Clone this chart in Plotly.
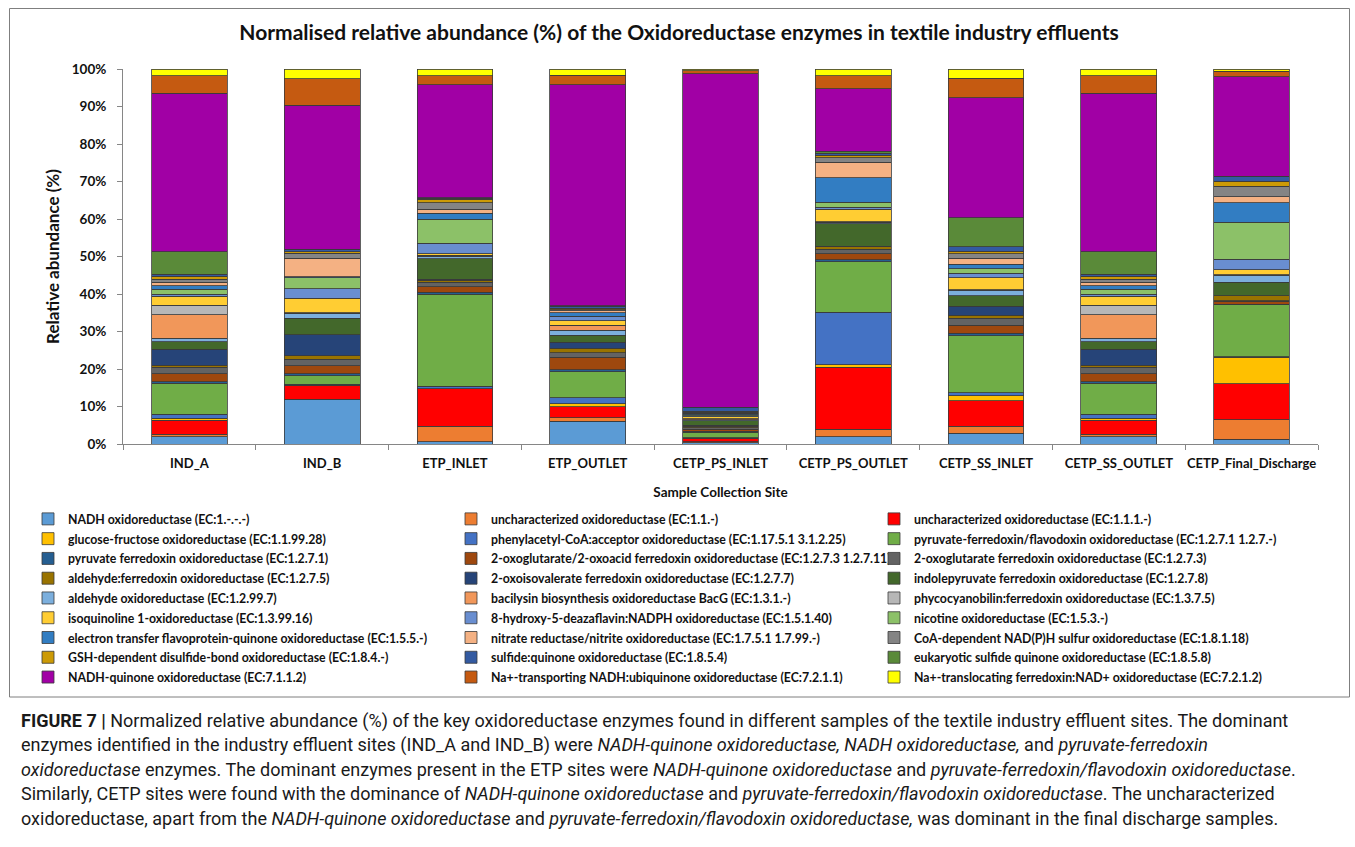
import plotly.graph_objects as go

# Sample collection sites (x categories)
sites = ["IND_A", "IND_B", "ETP_INLET", "ETP_OUTLET", "CETP_PS_INLET",
         "CETP_PS_OUTLET", "CETP_SS_INLET", "CETP_SS_OUTLET", "CETP_Final_Discharge"]

# Oxidoreductase enzymes, stacked bottom to top
enzymes = [
    "NADH oxidoreductase (EC:1.-.-.-)",
    "uncharacterized oxidoreductase (EC:1.1.-)",
    "uncharacterized oxidoreductase (EC:1.1.1.-)",
    "glucose-fructose oxidoreductase (EC:1.1.99.28)",
    "phenylacetyl-CoA:acceptor oxidoreductase (EC:1.17.5.1 3.1.2.25)",
    "pyruvate-ferredoxin/flavodoxin oxidoreductase (EC:1.2.7.1 1.2.7.-)",
    "pyruvate ferredoxin oxidoreductase (EC:1.2.7.1)",
    "2-oxoglutarate/2-oxoacid ferredoxin oxidoreductase (EC:1.2.7.3 1.2.7.11)",
    "2-oxoglutarate ferredoxin oxidoreductase (EC:1.2.7.3)",
    "aldehyde:ferredoxin oxidoreductase (EC:1.2.7.5)",
    "2-oxoisovalerate ferredoxin oxidoreductase (EC:1.2.7.7)",
    "indolepyruvate ferredoxin oxidoreductase (EC:1.2.7.8)",
    "aldehyde oxidoreductase (EC:1.2.99.7)",
    "bacilysin biosynthesis oxidoreductase BacG (EC:1.3.1.-)",
    "phycocyanobilin:ferredoxin oxidoreductase (EC:1.3.7.5)",
    "isoquinoline 1-oxidoreductase (EC:1.3.99.16)",
    "8-hydroxy-5-deazaflavin:NADPH oxidoreductase (EC:1.5.1.40)",
    "nicotine oxidoreductase (EC:1.5.3.-)",
    "electron transfer flavoprotein-quinone oxidoreductase (EC:1.5.5.-)",
    "nitrate reductase/nitrite oxidoreductase (EC:1.7.5.1 1.7.99.-)",
    "CoA-dependent NAD(P)H sulfur oxidoreductase (EC:1.8.1.18)",
    "GSH-dependent disulfide-bond oxidoreductase (EC:1.8.4.-)",
    "sulfide:quinone oxidoreductase (EC:1.8.5.4)",
    "eukaryotic sulfide quinone oxidoreductase (EC:1.8.5.8)",
    "NADH-quinone oxidoreductase (EC:7.1.1.2)",
    "Na+-transporting NADH:ubiquinone oxidoreductase (EC:7.2.1.1)",
    "Na+-translocating ferredoxin:NAD+ oxidoreductase (EC:7.2.1.2)",
]

colors = [
    "#5B9BD5", "#ED7D31", "#FF0000", "#FFC000", "#4472C4", "#70AD47",
    "#255E91", "#9E480E", "#636363", "#997300", "#264478", "#43682B",
    "#7CAFDD", "#F1975A", "#B7B7B7", "#FFCD33", "#698ED0", "#8CC168",
    "#327DC2", "#F4B183", "#848484", "#CC9A06", "#335AA1", "#5A8A39",
    "#A100A5", "#C55A11", "#FFFF00",
]

# Relative abundance (%) per site, in the enzyme order above
ind_a = [2.0, 0.6, 3.8, 0.5, 1.1, 8.2, 0.4, 2.1, 1.8, 0.5, 4.3, 2.0, 0.9, 6.3,
         2.5, 2.4, 0.6, 1.3, 0.9, 0.9, 0.8, 0.8, 0.6, 6.0, 42.3, 4.6, 1.8]
ind_b = [11.8, 0.1, 3.6, 0.2, 0.2, 2.3, 0.6, 2.1, 1.7, 1.0, 5.6, 4.4, 1.2, 0.1,
         0.1, 3.9, 2.5, 3.0, 0.2, 4.9, 1.4, 0.4, 0.6, 0.1, 38.4, 7.0, 2.6]
etp_inlet = [0.6, 4.1, 10.0, 0.1, 0.6, 24.6, 0.5, 1.5, 1.2, 0.5, 0.2, 5.5, 0.7, 0.1,
             0.1, 0.5, 2.8, 6.4, 1.6, 1.0, 1.7, 1.0, 0.2, 0.2, 30.1, 2.4, 1.8]
etp_outlet = [6.1, 0.9, 3.0, 0.8, 1.5, 7.0, 0.5, 3.4, 1.2, 1.1, 1.6, 1.9, 1.4, 1.2,
              0.1, 1.2, 1.1, 0.1, 0.9, 0.6, 0.2, 0.4, 0.6, 0.1, 58.9, 2.6, 1.6]
cetp_ps_inlet = [0.3, 0.3, 0.8, 0.1, 0.2, 1.5, 0.2, 0.5, 0.5, 0.3, 0.3, 1.2, 0.3, 0.2,
                 0.1, 0.5, 0.3, 0.2, 0.3, 0.1, 0.3, 0.2, 1.0, 0.1, 88.9, 0.8, 0.5]
cetp_ps_outlet = [1.9, 2.0, 16.6, 0.7, 14.0, 13.4, 0.6, 1.6, 1.2, 0.6, 0.1, 6.0, 0.4, 0.1,
                  0.1, 3.3, 0.5, 1.4, 6.5, 4.1, 1.2, 0.7, 0.6, 0.5, 16.6, 3.5, 1.8]
cetp_ss_inlet = [2.9, 1.8, 6.8, 1.4, 0.8, 15.2, 0.6, 2.2, 1.9, 0.8, 2.4, 2.8, 1.4, 0.1,
                 0.1, 3.2, 1.1, 1.2, 1.2, 1.7, 1.1, 0.7, 1.2, 7.8, 32.0, 5.2, 2.4]
cetp_ss_outlet = [2.0, 0.6, 3.8, 0.5, 1.1, 8.2, 0.4, 2.1, 1.8, 0.5, 4.3, 2.0, 0.9, 6.3,
                  2.5, 2.4, 0.6, 1.3, 0.9, 0.9, 0.8, 0.8, 0.6, 6.0, 42.3, 4.6, 1.8]
cetp_final_discharge = [1.3, 5.2, 9.6, 7.1, 0.1, 13.9, 0.1, 0.8, 0.1, 1.3, 0.1, 3.5, 1.9, 0.1,
                        0.1, 1.3, 2.8, 9.8, 5.3, 1.6, 2.7, 1.4, 1.2, 0.1, 26.6, 1.4, 0.6]

y_ticks = [0, 10, 20, 30, 40, 50, 60, 70, 80, 90, 100]
y_tick_labels = ["0%", "10%", "20%", "30%", "40%", "50%", "60%", "70%", "80%", "90%", "100%"]

site_values = [ind_a, ind_b, etp_inlet, etp_outlet, cetp_ps_inlet,
               cetp_ps_outlet, cetp_ss_inlet, cetp_ss_outlet, cetp_final_discharge]

# ---- page geometry (pixels) ----
W, H = 1355, 847
L, R, T, B = 123, 37, 69, 403
PW, PH = W - L - R, H - T - B


def px_x(x):
    return (x - L) / PW


def px_y(y):
    return (H - B - y) / PH


FONT = "Lato"
INK = "#111111"

fig = go.Figure()
for i, name in enumerate(enzymes):
    fig.add_trace(go.Bar(
        x=sites,
        y=[vals[i] for vals in site_values],
        # legend text is set a little smaller than the legend row pitch
        name=f'<span style="font-size:12.3px">{name}</span>',
        hovertemplate=f"{name}<br>%{{x}}: %{{y:.1f}}%<extra></extra>",
        marker=dict(color=colors[i], line=dict(color="#3a3a3a", width=0.8)),
    ))

fig.update_layout(
    width=W, height=H,
    margin=dict(l=L, r=R, t=T, b=B, autoexpand=False),
    barmode="stack",
    barnorm="percent",
    bargap=0.43,
    paper_bgcolor="white",
    plot_bgcolor="white",
    font=dict(family=FONT, color=INK),
    title=dict(
        text="Normalised relative abundance (%) of the Oxidoreductase enzymes in textile industry effluents",
        x=px_x(679), xref="paper", xanchor="center",
        y=1 - 33 / H, yref="container", yanchor="middle",
        font=dict(family=FONT, size=21, weight="bold", color=INK),
    ),
    xaxis=dict(
        type="category",
        showline=True, linecolor="#868686", linewidth=1,
        ticks="outside", tickson="boundaries", ticklen=5, tickcolor="#868686",
        tickangle=0,
        ticklabelstandoff=7,
        tickfont=dict(family=FONT, size=13, weight="bold", color=INK),
        showgrid=False,
        title=dict(text="Sample Collection Site", standoff=17,
                   font=dict(family=FONT, size=13.5, weight="bold", color=INK)),
    ),
    yaxis=dict(
        range=[0, 100],
        tickmode="array",
        tickvals=y_ticks,
        ticktext=y_tick_labels,
        showline=True, linecolor="#868686", linewidth=1,
        ticks="outside", ticklen=5, tickcolor="#868686",
        ticklabelstandoff=8,
        tickfont=dict(family=FONT, size=13.5, weight="bold", color=INK),
        showgrid=False, zeroline=False,
        title=dict(text="Relative abundance (%)", standoff=7,
                   font=dict(family=FONT, size=17, weight="bold", color=INK)),
    ),
    legend=dict(
        orientation="h",
        x=px_x(28), xanchor="left",
        y=px_y(504), yanchor="top",
        entrywidth=378, entrywidthmode="pixels",
        traceorder="normal",
        font=dict(family=FONT, size=12.9, weight="bold", color=INK),
        bgcolor="rgba(0,0,0,0)",
    ),
    showlegend=True,
)

# Frame around the chart
fig.add_shape(type="rect", xref="paper", yref="paper",
              x0=px_x(9.5), x1=px_x(1349.5), y0=px_y(697), y1=px_y(8.5),
              line=dict(color="#7f7f7f", width=1), fillcolor="rgba(0,0,0,0)", layer="below")

# Figure caption below the frame
caption_lines = [
    "<b>FIGURE 7 |</b> Normalized relative abundance (%) of the key oxidoreductase enzymes found in different samples of the textile industry effluent sites. The dominant",
    "enzymes identified in the industry effluent sites (IND_A and IND_B) were <i>NADH-quinone oxidoreductase, NADH oxidoreductase,</i> and <i>pyruvate-ferredoxin</i>",
    "<i>oxidoreductase</i> enzymes. The dominant enzymes present in the ETP sites were <i>NADH-quinone oxidoreductase</i> and <i>pyruvate-ferredoxin/flavodoxin oxidoreductase</i>.",
    "Similarly, CETP sites were found with the dominance of <i>NADH-quinone oxidoreductase</i> and <i>pyruvate-ferredoxin/flavodoxin oxidoreductase</i>. The uncharacterized",
    "oxidoreductase, apart from the <i>NADH-quinone oxidoreductase</i> and <i>pyruvate-ferredoxin/flavodoxin oxidoreductase,</i> was dominant in the final discharge samples.",
]
caption_y = [721, 745, 769, 793, 818]
for text, yy in zip(caption_lines, caption_y):
    fig.add_annotation(
        text=text, xref="paper", yref="paper",
        x=px_x(19), y=px_y(yy), xanchor="left", yanchor="middle",
        showarrow=False, align="left",
        font=dict(family="Roboto", size=18, color="#1a1a1a"),
    )

fig.write_html("out.html")
